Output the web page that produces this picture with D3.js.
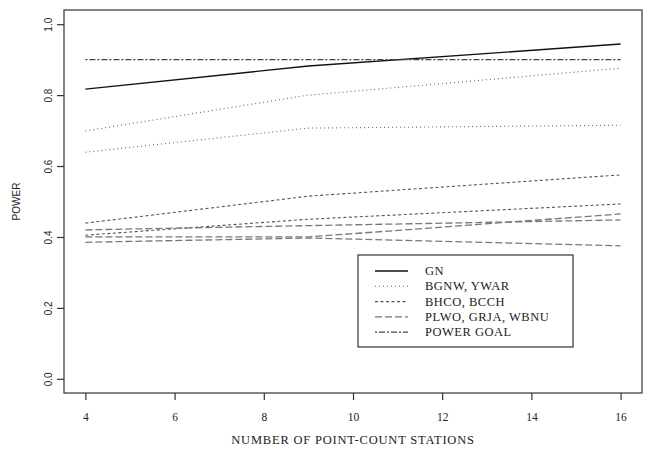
<!DOCTYPE html>
<html>
<head>
<meta charset="utf-8">
<script src="https://cdn.jsdelivr.net/npm/d3@7"></script>
<style>
  body { margin: 0; background: #fff; }
</style>
</head>
<body>
<script>
// values, stations = 4, 9, 16
var stations = [4, 9, 16];
var gn = [0.817, 0.882, 0.944];
var bgnw = [0.699, 0.800, 0.876];
var ywar = [0.639, 0.707, 0.715];
var bhco = [0.439, 0.515, 0.575];
var bcch = [0.405, 0.450, 0.493];
var plwo = [0.420, 0.432, 0.448];
var grja = [0.400, 0.400, 0.465];
var wbnu = [0.385, 0.397, 0.375];
var powerGoal = [0.9, 0.9, 0.9];

var xTicks = [4, 6, 8, 10, 12, 14, 16];
var yTicks = [0, 0.2, 0.4, 0.6, 0.8, 1.0];

var legendLabels = ["GN", "BGNW, YWAR", "BHCO, BCCH", "PLWO, GRJA, WBNU", "POWER GOAL"];

var width = 646;
var height = 450;
var margin = { top: 10, left: 64, right: 4, bottom: 57 };

var svg = d3.select("body")
        .append("svg")
        .attr("width", width)
        .attr("height", height);

// R style: 4% padding each side of data range
var xScale = d3.scaleLinear()
           .domain([3.52, 16.48])
           .range([margin.left, width - margin.right]);

var yScale = d3.scaleLinear()
           .domain([-0.04, 1.04])
           .range([height - margin.bottom, margin.top]);

// line styles: solid, dotted, short dash, long dash, twodash
var styles = {
    solid: { dash: null, stroke: "#111", w: 1.4 },
    dotted: { dash: "1,3", stroke: "#666", w: 1.1 },
    dashed: { dash: "3,2.5", stroke: "#555", w: 1.1 },
    longdash: { dash: "7,3", stroke: "#777", w: 1.3 },
    twodash: { dash: "2,2,6,2", stroke: "#444", w: 1.2 }
};

var series = [
    { vals: gn, style: "solid" },
    { vals: bgnw, style: "dotted" },
    { vals: ywar, style: "dotted" },
    { vals: bhco, style: "dashed" },
    { vals: bcch, style: "dashed" },
    { vals: plwo, style: "longdash" },
    { vals: grja, style: "longdash" },
    { vals: wbnu, style: "longdash" },
    { vals: powerGoal, style: "twodash" }
];

var line = d3.line()
        .x(function(d, i) { return xScale(stations[i]); })
        .y(function(d) { return yScale(d); });

series.forEach(function(s) {
    var st = styles[s.style];
    svg.append("path")
        .datum(s.vals)
        .attr("fill", "none")
        .attr("stroke", st.stroke)
        .attr("stroke-width", st.w)
        .attr("stroke-dasharray", st.dash)
        .attr("d", line);
});

// plot box
svg.append("rect")
    .attr("x", margin.left)
    .attr("y", margin.top)
    .attr("width", width - margin.left - margin.right)
    .attr("height", height - margin.top - margin.bottom)
    .attr("fill", "none")
    .attr("stroke", "#333")
    .attr("stroke-width", 1.2);

// x axis
var xAxis = svg.append("g")
        .attr("transform", `translate(0,${height - margin.bottom})`)
        .call(d3.axisBottom(xScale).tickValues(xTicks).tickSize(7).tickPadding(13));
xAxis.select(".domain").remove();
xAxis.selectAll("line").attr("stroke", "#333").attr("stroke-width", 1.2);
xAxis.selectAll("text")
    .style("font-family", "'Liberation Serif', serif")
    .style("font-size", "11.5px")
    .attr("fill", "#222");

// y axis, labels parallel to the axis
var yAxis = svg.append("g")
        .attr("transform", `translate(${margin.left},0)`)
        .call(d3.axisLeft(yScale).tickValues(yTicks).tickSize(7).tickFormat(d3.format(".1f")));
yAxis.select(".domain").remove();
yAxis.selectAll("line").attr("stroke", "#333").attr("stroke-width", 1.2);
yAxis.selectAll("text")
    .attr("x", 0)
    .attr("dy", 0)
    .attr("transform", "translate(-12,0) rotate(-90)")
    .attr("text-anchor", "middle")
    .style("font-family", "'Liberation Sans', sans-serif")
    .style("font-size", "10px")
    .attr("fill", "#222");

// axis titles
svg.append("text")
    .attr("x", (margin.left + width - margin.right) / 2)
    .attr("y", 444)
    .attr("text-anchor", "middle")
    .style("font-family", "'Liberation Serif', serif")
    .style("font-size", "12.5px")
    .style("letter-spacing", "0.8px")
    .attr("fill", "#222")
    .text("NUMBER OF POINT-COUNT STATIONS");

svg.append("text")
    .attr("transform", "translate(20," + yScale(0.5) + ") rotate(-90)")
    .attr("text-anchor", "middle")
    .style("font-family", "'Liberation Sans', sans-serif")
    .style("font-size", "10px")
    .attr("fill", "#222")
    .text("POWER");

// legend
var legendStyles = ["solid", "dotted", "dashed", "longdash", "twodash"];
var legend = svg.append("g").attr("transform", "translate(358,255)");
legend.append("rect")
    .attr("width", 215)
    .attr("height", 92)
    .attr("fill", "#fff")
    .attr("stroke", "#333")
    .attr("stroke-width", 1.2);

legendLabels.forEach(function(lab, i) {
    var st = styles[legendStyles[i]];
    var y = 16 + i * 15.3;
    legend.append("line")
        .attr("x1", 17).attr("x2", 50)
        .attr("y1", y).attr("y2", y)
        .attr("stroke", st.stroke)
        .attr("stroke-width", st.w)
        .attr("stroke-dasharray", st.dash);
    legend.append("text")
        .attr("x", 67)
        .attr("y", y + 4)
        .style("font-family", "'Liberation Serif', serif")
        .style("font-size", "12.5px")
        .style("letter-spacing", "0.5px")
        .attr("fill", "#222")
        .text(lab);
});
</script>
</body>
</html>
